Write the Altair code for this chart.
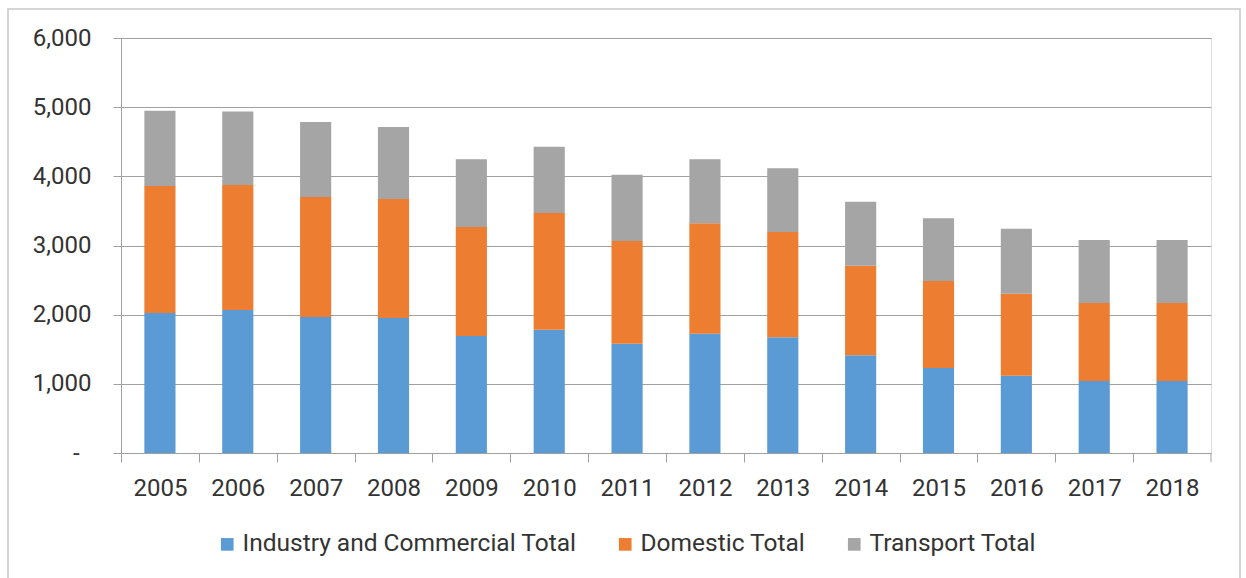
import altair as alt
import pandas as pd

years = ["2005", "2006", "2007", "2008", "2009", "2010", "2011",
         "2012", "2013", "2014", "2015", "2016", "2017", "2018"]
industry = [2025, 2067, 1966, 1952, 1691, 1783, 1580, 1725, 1672, 1412, 1229, 1118, 1041, 1041]
domestic = [1835, 1808, 1734, 1720, 1576, 1687, 1485, 1596, 1523, 1296, 1258, 1185, 1128, 1128]
transport = [1090, 1062, 1085, 1041, 979, 959, 959, 925, 921, 925, 906, 940, 910, 910]
series_names = ["Industry and Commercial Total", "Domestic Total", "Transport Total"]
colors = ["#5B9BD5", "#ED7D31", "#A5A5A5"]
y_ticks = [0, 1000, 2000, 3000, 4000, 5000, 6000]

rows = []
for i, y in enumerate(years):
    for k, (name, vals) in enumerate(zip(series_names, [industry, domestic, transport])):
        rows.append({"year": y, "series": name, "value": vals[i], "idx": k})
df = pd.DataFrame(rows)

W, H = 1090, 415
step = W / 14.0
FONT = "Roboto"
TXT = "#333333"
GRID = "#A0A0A0"

bars = alt.Chart(df).mark_bar().encode(
    x=alt.X("year:N", sort=years,
            scale=alt.Scale(paddingInner=0.6, paddingOuter=0.3),
            axis=alt.Axis(title=None, labelAngle=0, bandPosition=0.5,
                          tickOffset=-step / 2, labelOffset=step / 2,
                          tickSize=9, labelPadding=14, domainColor=GRID,
                          tickColor=GRID, labelFontSize=24, labelColor=TXT,
                          labelFont=FONT, grid=False)),
    y=alt.Y("value:Q", stack="zero",
            scale=alt.Scale(domain=[0, 6000], nice=False),
            axis=alt.Axis(title=None, values=y_ticks,
                          labelExpr="datum.value == 0 ? '-\u00a0\u00a0\u200b' : format(datum.value, ',')",
                          tickSize=8, labelPadding=22, domainColor=GRID,
                          tickColor=GRID, gridColor=GRID, grid=True,
                          labelFontSize=24, labelColor=TXT, labelFont=FONT)),
    color=alt.Color("series:N", sort=series_names,
                    scale=alt.Scale(domain=series_names, range=colors),
                    legend=alt.Legend(orient="none", legendX=94, legendY=494,
                                      direction="horizontal", title=None,
                                      symbolType="square", symbolSize=160,
                                      symbolStrokeWidth=0, labelFontSize=24.5,
                                      labelFont=FONT, labelColor=TXT,
                                      labelLimit=0,
                                      columnPadding=36, labelOffset=3)),
    order=alt.Order("idx:Q", sort="ascending"),
)

frame_df = pd.DataFrame({"k": [0]})
end_tick = alt.Chart(frame_df).mark_rule(color=GRID, strokeWidth=1).encode(
    x=alt.value(W), y=alt.value(H), y2=alt.value(H + 9))
frame = alt.Chart(frame_df).mark_rect(fill=None, stroke="#C8C8C8", strokeWidth=1.5).encode(
    x=alt.value(-113), x2=alt.value(1119), y=alt.value(-29), y2=alt.value(600))

chart = alt.layer(frame, bars, end_tick).properties(
    width=W, height=H,
    autosize=alt.AutoSizeParams(type="none"),
    padding={"left": 121, "top": 38, "right": 35, "bottom": 125},
).configure_view(stroke=None).configure(background="white")

chart.save("out.html", embed_options={"renderer": "svg", "actions": False})
